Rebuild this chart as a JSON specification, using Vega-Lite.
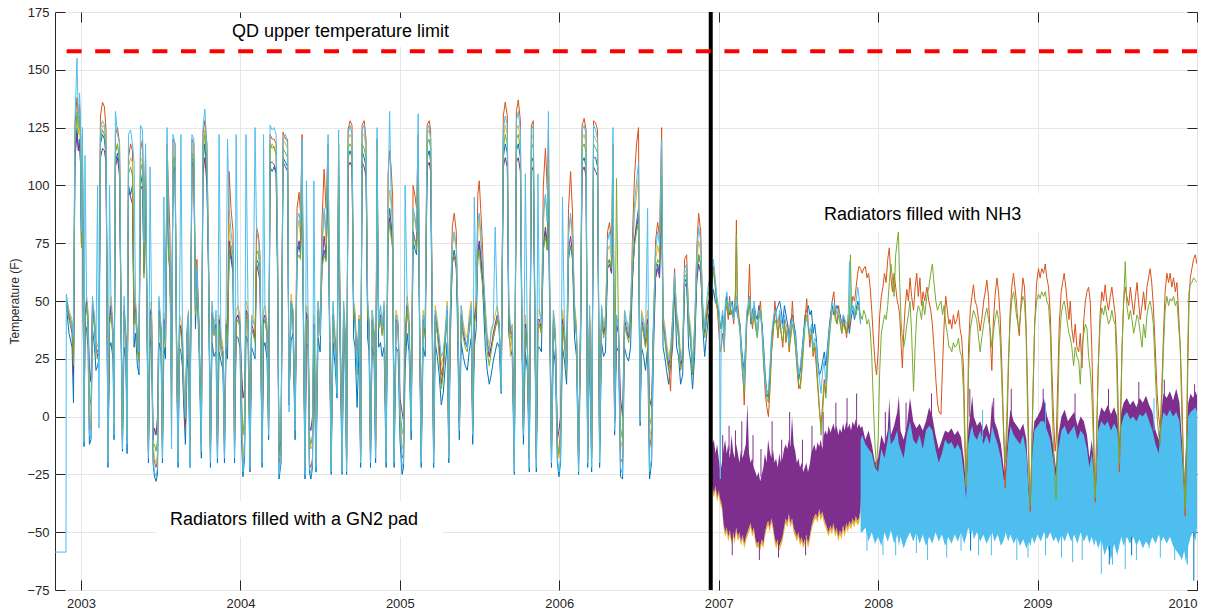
{
"$schema":"https://vega.github.io/schema/vega-lite/v6.json",
"width":1142,"height":578,
"autosize":{"type":"none"},
"padding":{"left":55,"top":12,"right":19,"bottom":21},
"background":"white",
"datasets":{
"start":[{"t":2002.837,"v":-58.6},{"t":2002.906,"v":-58.6},{"t":2002.908,"v":53}],
"p1":[
{"t":2002.908,"s1":48,"s2":50,"s3":52,"s4":50,"s5":50,"s6":53},
{"t":2002.925,"s1":36,"s2":44,"s3":46,"s4":43,"s5":42,"s6":45},
{"t":2002.944,"s1":30,"s2":40,"s3":42,"s4":36,"s5":38,"s6":40},
{"t":2002.953,"s1":6,"s2":28,"s3":30,"s4":18,"s5":22,"s6":34},
{"t":2002.962,"s1":115,"s2":126,"s3":120,"s4":112,"s5":118,"s6":128},
{"t":2002.975,"s1":125,"s2":138,"s3":130,"s4":122,"s5":132,"s6":155},
{"t":2002.984,"s1":115,"s2":130,"s3":122,"s4":115,"s5":125,"s6":125},
{"t":2002.991,"s1":120,"s2":135,"s3":128,"s4":118,"s5":130,"s6":140},
{"t":2002.997,"s1":110,"s2":125,"s3":120,"s4":110,"s5":115,"s6":128},
{"t":2003.003,"s1":75,"s2":85,"s3":78,"s4":75,"s5":73,"s6":80},
{"t":2003.009,"s1":112,"s2":122,"s3":118,"s4":110,"s5":116,"s6":125},
{"t":2003.019,"s1":-13,"s2":-10,"s3":-9,"s4":-8,"s5":-9,"s6":-11},
{"t":2003.025,"s1":40,"s2":42,"s3":45,"s4":42,"s5":41,"s6":113},
{"t":2003.035,"s1":38,"s2":48,"s3":52,"s4":50,"s5":48,"s6":52},
{"t":2003.044,"s1":30,"s2":42,"s3":46,"s4":42,"s5":40,"s6":44},
{"t":2003.053,"s1":-12,"s2":-6,"s3":0,"s4":21,"s5":10,"s6":-8},
{"t":2003.063,"s1":-10,"s2":-5,"s3":-2,"s4":15,"s5":5,"s6":-9},
{"t":2003.072,"s1":38,"s2":46,"s3":50,"s4":48,"s5":45,"s6":52},
{"t":2003.085,"s1":30,"s2":40,"s3":44,"s4":40,"s5":38,"s6":42},
{"t":2003.094,"s1":20,"s2":30,"s3":34,"s4":30,"s5":26,"s6":28},
{"t":2003.104,"s1":22,"s2":28,"s3":30,"s4":26,"s5":25,"s6":100},
{"t":2003.113,"s1":25,"s2":30,"s3":32,"s4":28,"s5":27,"s6":-5},
{"t":2003.122,"s1":118,"s2":130,"s3":122,"s4":112,"s5":120,"s6":125},
{"t":2003.135,"s1":122,"s2":136,"s3":126,"s4":116,"s5":124,"s6":128},
{"t":2003.147,"s1":120,"s2":134,"s3":125,"s4":115,"s5":122,"s6":126},
{"t":2003.157,"s1":112,"s2":124,"s3":118,"s4":110,"s5":116,"s6":120},
{"t":2003.163,"s1":55,"s2":60,"s3":60,"s4":55,"s5":58,"s6":60},
{"t":2003.169,"s1":-22,"s2":-18,"s3":-17,"s4":-15,"s5":-17,"s6":-20},
{"t":2003.179,"s1":30,"s2":40,"s3":45,"s4":42,"s5":40,"s6":100},
{"t":2003.188,"s1":32,"s2":45,"s3":52,"s4":48,"s5":44,"s6":50},
{"t":2003.201,"s1":25,"s2":36,"s3":40,"s4":36,"s5":34,"s6":36},
{"t":2003.207,"s1":-10,"s2":-5,"s3":-3,"s4":0,"s5":-2,"s6":-8},
{"t":2003.216,"s1":110,"s2":122,"s3":115,"s4":108,"s5":114,"s6":132},
{"t":2003.229,"s1":114,"s2":125,"s3":118,"s4":112,"s5":118,"s6":122},
{"t":2003.242,"s1":108,"s2":118,"s3":112,"s4":104,"s5":110,"s6":118},
{"t":2003.251,"s1":38,"s2":45,"s3":50,"s4":46,"s5":44,"s6":50},
{"t":2003.260,"s1":-15,"s2":-12,"s3":-10,"s4":-8,"s5":-10,"s6":-14},
{"t":2003.270,"s1":30,"s2":42,"s3":48,"s4":46,"s5":44,"s6":52},
{"t":2003.282,"s1":24,"s2":34,"s3":38,"s4":34,"s5":32,"s6":30},
{"t":2003.289,"s1":-16,"s2":-10,"s3":-8,"s4":-6,"s5":-8,"s6":-12},
{"t":2003.298,"s1":100,"s2":112,"s3":108,"s4":98,"s5":105,"s6":122},
{"t":2003.311,"s1":96,"s2":118,"s3":112,"s4":95,"s5":108,"s6":124},
{"t":2003.323,"s1":100,"s2":115,"s3":110,"s4":92,"s5":104,"s6":118},
{"t":2003.333,"s1":30,"s2":40,"s3":46,"s4":42,"s5":40,"s6":110},
{"t":2003.342,"s1":36,"s2":46,"s3":50,"s4":48,"s5":45,"s6":50},
{"t":2003.354,"s1":22,"s2":30,"s3":36,"s4":32,"s5":28,"s6":32},
{"t":2003.364,"s1":18,"s2":26,"s3":30,"s4":28,"s5":24,"s6":28},
{"t":2003.373,"s1":100,"s2":115,"s3":110,"s4":98,"s5":106,"s6":126},
{"t":2003.386,"s1":105,"s2":120,"s3":112,"s4":100,"s5":110,"s6":124},
{"t":2003.395,"s1":65,"s2":90,"s3":70,"s4":62,"s5":60,"s6":75},
{"t":2003.405,"s1":100,"s2":112,"s3":108,"s4":98,"s5":104,"s6":118},
{"t":2003.414,"s1":40,"s2":45,"s3":48,"s4":46,"s5":44,"s6":48},
{"t":2003.423,"s1":-20,"s2":-15,"s3":-14,"s4":-12,"s5":-14,"s6":-18},
{"t":2003.433,"s1":30,"s2":40,"s3":48,"s4":44,"s5":42,"s6":108},
{"t":2003.442,"s1":35,"s2":45,"s3":50,"s4":47,"s5":44,"s6":48},
{"t":2003.452,"s1":-20,"s2":-14,"s3":-12,"s4":-10,"s5":-13,"s6":-18},
{"t":2003.461,"s1":-26,"s2":-20,"s3":-18,"s4":-5,"s5":-12,"s6":-24},
{"t":2003.471,"s1":-28,"s2":-22,"s3":-20,"s4":-8,"s5":-15,"s6":-26},
{"t":2003.480,"s1":-25,"s2":-18,"s3":-16,"s4":0,"s5":-10,"s6":-22},
{"t":2003.489,"s1":32,"s2":42,"s3":50,"s4":46,"s5":44,"s6":52},
{"t":2003.502,"s1":28,"s2":36,"s3":40,"s4":38,"s5":36,"s6":38},
{"t":2003.511,"s1":-20,"s2":-14,"s3":-12,"s4":-10,"s5":-12,"s6":-18},
{"t":2003.520,"s1":30,"s2":40,"s3":45,"s4":42,"s5":40,"s6":95},
{"t":2003.530,"s1":25,"s2":33,"s3":36,"s4":30,"s5":30,"s6":32},
{"t":2003.540,"s1":110,"s2":118,"s3":115,"s4":108,"s5":112,"s6":125},
{"t":2003.549,"s1":72,"s2":97,"s3":78,"s4":70,"s5":68,"s6":82},
{"t":2003.558,"s1":65,"s2":80,"s3":66,"s4":62,"s5":70,"s6":72},
{"t":2003.568,"s1":20,"s2":-8,"s3":15,"s4":10,"s5":12,"s6":-14},
{"t":2003.577,"s1":110,"s2":120,"s3":115,"s4":105,"s5":112,"s6":122},
{"t":2003.590,"s1":112,"s2":118,"s3":114,"s4":108,"s5":112,"s6":118},
{"t":2003.599,"s1":28,"s2":36,"s3":40,"s4":36,"s5":34,"s6":30},
{"t":2003.609,"s1":-22,"s2":-16,"s3":-15,"s4":-12,"s5":-14,"s6":-20},
{"t":2003.618,"s1":30,"s2":40,"s3":44,"s4":40,"s5":38,"s6":45},
{"t":2003.627,"s1":28,"s2":38,"s3":42,"s4":38,"s5":36,"s6":122},
{"t":2003.636,"s1":22,"s2":30,"s3":34,"s4":30,"s5":28,"s6":40},
{"t":2003.646,"s1":2,"s2":10,"s3":12,"s4":6,"s5":8,"s6":14},
{"t":2003.655,"s1":-12,"s2":-5,"s3":0,"s4":-3,"s5":-1,"s6":0},
{"t":2003.665,"s1":20,"s2":32,"s3":38,"s4":35,"s5":32,"s6":36},
{"t":2003.674,"s1":30,"s2":42,"s3":46,"s4":44,"s5":42,"s6":45},
{"t":2003.683,"s1":-22,"s2":-16,"s3":-15,"s4":-12,"s5":-14,"s6":-22},
{"t":2003.696,"s1":112,"s2":120,"s3":116,"s4":110,"s5":114,"s6":122},
{"t":2003.708,"s1":110,"s2":118,"s3":115,"s4":108,"s5":112,"s6":120},
{"t":2003.718,"s1":38,"s2":45,"s3":50,"s4":46,"s5":44,"s6":48},
{"t":2003.727,"s1":60,"s2":68,"s3":58,"s4":62,"s5":56,"s6":65},
{"t":2003.740,"s1":30,"s2":40,"s3":42,"s4":38,"s5":36,"s6":38},
{"t":2003.755,"s1":-18,"s2":-12,"s3":-10,"s4":-8,"s5":-10,"s6":-15},
{"t":2003.765,"s1":110,"s2":122,"s3":118,"s4":105,"s5":116,"s6":125},
{"t":2003.777,"s1":118,"s2":128,"s3":124,"s4":112,"s5":122,"s6":133},
{"t":2003.790,"s1":105,"s2":118,"s3":112,"s4":100,"s5":110,"s6":116},
{"t":2003.800,"s1":62,"s2":70,"s3":72,"s4":65,"s5":62,"s6":68},
{"t":2003.812,"s1":-22,"s2":-16,"s3":-14,"s4":-12,"s5":-14,"s6":-20},
{"t":2003.822,"s1":32,"s2":42,"s3":48,"s4":45,"s5":42,"s6":50},
{"t":2003.834,"s1":26,"s2":36,"s3":40,"s4":37,"s5":35,"s6":36},
{"t":2003.847,"s1":28,"s2":40,"s3":44,"s4":40,"s5":38,"s6":46},
{"t":2003.856,"s1":-20,"s2":-15,"s3":-12,"s4":-10,"s5":-12,"s6":-18},
{"t":2003.866,"s1":28,"s2":40,"s3":44,"s4":42,"s5":40,"s6":122},
{"t":2003.878,"s1":24,"s2":32,"s3":36,"s4":32,"s5":28,"s6":32},
{"t":2003.891,"s1":20,"s2":28,"s3":30,"s4":26,"s5":24,"s6":28},
{"t":2003.900,"s1":-20,"s2":-14,"s3":-12,"s4":-10,"s5":-12,"s6":-18},
{"t":2003.910,"s1":30,"s2":38,"s3":42,"s4":40,"s5":38,"s6":44},
{"t":2003.919,"s1":25,"s2":35,"s3":38,"s4":35,"s5":33,"s6":120},
{"t":2003.929,"s1":72,"s2":106,"s3":84,"s4":76,"s5":72,"s6":90},
{"t":2003.941,"s1":68,"s2":90,"s3":72,"s4":70,"s5":74,"s6":80},
{"t":2003.954,"s1":62,"s2":80,"s3":66,"s4":64,"s5":70,"s6":72},
{"t":2003.963,"s1":-20,"s2":-14,"s3":-12,"s4":-10,"s5":-12,"s6":-18},
{"t":2003.973,"s1":35,"s2":42,"s3":46,"s4":42,"s5":40,"s6":122},
{"t":2003.985,"s1":34,"s2":44,"s3":48,"s4":44,"s5":42,"s6":46},
{"t":2003.997,"s1":30,"s2":40,"s3":44,"s4":40,"s5":38,"s6":42},
{"t":2004.007,"s1":-10,"s2":0,"s3":5,"s4":20,"s5":10,"s6":0},
{"t":2004.016,"s1":-26,"s2":-20,"s3":-18,"s4":8,"s5":-8,"s6":-24},
{"t":2004.026,"s1":-18,"s2":-12,"s3":-10,"s4":12,"s5":0,"s6":-15},
{"t":2004.035,"s1":35,"s2":45,"s3":50,"s4":46,"s5":44,"s6":122},
{"t":2004.048,"s1":32,"s2":42,"s3":46,"s4":44,"s5":40,"s6":45},
{"t":2004.060,"s1":-24,"s2":-18,"s3":-16,"s4":-14,"s5":-16,"s6":-22},
{"t":2004.070,"s1":30,"s2":38,"s3":44,"s4":40,"s5":38,"s6":42},
{"t":2004.079,"s1":28,"s2":36,"s3":42,"s4":38,"s5":36,"s6":40},
{"t":2004.092,"s1":25,"s2":34,"s3":38,"s4":34,"s5":32,"s6":125},
{"t":2004.101,"s1":68,"s2":82,"s3":70,"s4":66,"s5":72,"s6":80},
{"t":2004.114,"s1":66,"s2":78,"s3":72,"s4":62,"s5":70,"s6":76},
{"t":2004.123,"s1":60,"s2":70,"s3":62,"s4":58,"s5":64,"s6":66},
{"t":2004.136,"s1":-22,"s2":-16,"s3":-14,"s4":-12,"s5":-14,"s6":-20},
{"t":2004.145,"s1":30,"s2":40,"s3":46,"s4":42,"s5":40,"s6":122},
{"t":2004.154,"s1":32,"s2":42,"s3":48,"s4":44,"s5":42,"s6":46},
{"t":2004.167,"s1":25,"s2":36,"s3":40,"s4":37,"s5":35,"s6":38},
{"t":2004.177,"s1":-10,"s2":-5,"s3":-2,"s4":0,"s5":-2,"s6":-8},
{"t":2004.186,"s1":108,"s2":122,"s3":116,"s4":110,"s5":118,"s6":126},
{"t":2004.199,"s1":106,"s2":120,"s3":118,"s4":110,"s5":116,"s6":124},
{"t":2004.211,"s1":108,"s2":120,"s3":116,"s4":109,"s5":117,"s6":125},
{"t":2004.224,"s1":105,"s2":118,"s3":114,"s4":106,"s5":113,"s6":122},
{"t":2004.233,"s1":60,"s2":70,"s3":72,"s4":66,"s5":64,"s6":77},
{"t":2004.242,"s1":-27,"s2":-20,"s3":-18,"s4":-16,"s5":-18,"s6":-25},
{"t":2004.255,"s1":-20,"s2":-14,"s3":-12,"s4":-10,"s5":-12,"s6":-18},
{"t":2004.267,"s1":112,"s2":123,"s3":120,"s4":110,"s5":116,"s6":120},
{"t":2004.283,"s1":110,"s2":120,"s3":118,"s4":108,"s5":114,"s6":122},
{"t":2004.296,"s1":108,"s2":120,"s3":116,"s4":106,"s5":112,"s6":118},
{"t":2004.305,"s1":10,"s2":6,"s3":8,"s4":5,"s5":6,"s6":2},
{"t":2004.318,"s1":33,"s2":46,"s3":53,"s4":50,"s5":48,"s6":50},
{"t":2004.330,"s1":36,"s2":42,"s3":46,"s4":44,"s5":42,"s6":46},
{"t":2004.343,"s1":-10,"s2":-5,"s3":0,"s4":-3,"s5":-2,"s6":-6},
{"t":2004.355,"s1":70,"s2":90,"s3":80,"s4":72,"s5":68,"s6":85},
{"t":2004.368,"s1":74,"s2":97,"s3":85,"s4":76,"s5":70,"s6":88},
{"t":2004.377,"s1":70,"s2":88,"s3":78,"s4":72,"s5":68,"s6":82},
{"t":2004.387,"s1":105,"s2":122,"s3":112,"s4":100,"s5":108,"s6":120},
{"t":2004.396,"s1":30,"s2":40,"s3":44,"s4":40,"s5":38,"s6":40},
{"t":2004.405,"s1":-27,"s2":-22,"s3":-20,"s4":-18,"s5":-20,"s6":-25},
{"t":2004.414,"s1":32,"s2":42,"s3":48,"s4":45,"s5":42,"s6":102},
{"t":2004.424,"s1":30,"s2":40,"s3":46,"s4":42,"s5":40,"s6":45},
{"t":2004.433,"s1":-24,"s2":-20,"s3":-10,"s4":-4,"s5":-8,"s6":-22},
{"t":2004.442,"s1":-27,"s2":-22,"s3":-14,"s4":-6,"s5":-12,"s6":-25},
{"t":2004.452,"s1":-22,"s2":-18,"s3":-12,"s4":0,"s5":-8,"s6":-20},
{"t":2004.461,"s1":30,"s2":40,"s3":44,"s4":40,"s5":38,"s6":102},
{"t":2004.474,"s1":-24,"s2":-20,"s3":-18,"s4":-16,"s5":-18,"s6":-22},
{"t":2004.487,"s1":34,"s2":44,"s3":50,"s4":46,"s5":44,"s6":50},
{"t":2004.500,"s1":28,"s2":38,"s3":42,"s4":38,"s5":36,"s6":35},
{"t":2004.512,"s1":66,"s2":85,"s3":72,"s4":66,"s5":64,"s6":76},
{"t":2004.525,"s1":72,"s2":107,"s3":88,"s4":78,"s5":70,"s6":90},
{"t":2004.537,"s1":68,"s2":90,"s3":76,"s4":70,"s5":67,"s6":80},
{"t":2004.550,"s1":104,"s2":118,"s3":112,"s4":100,"s5":108,"s6":122},
{"t":2004.559,"s1":34,"s2":42,"s3":46,"s4":42,"s5":40,"s6":44},
{"t":2004.569,"s1":-25,"s2":-20,"s3":-18,"s4":-16,"s5":-18,"s6":-24},
{"t":2004.581,"s1":32,"s2":42,"s3":48,"s4":44,"s5":42,"s6":50},
{"t":2004.594,"s1":22,"s2":30,"s3":36,"s4":32,"s5":30,"s6":30},
{"t":2004.606,"s1":8,"s2":18,"s3":20,"s4":16,"s5":14,"s6":10},
{"t":2004.616,"s1":104,"s2":118,"s3":112,"s4":100,"s5":108,"s6":124},
{"t":2004.625,"s1":30,"s2":40,"s3":44,"s4":40,"s5":38,"s6":42},
{"t":2004.638,"s1":-25,"s2":-20,"s3":-18,"s4":-16,"s5":-18,"s6":-24},
{"t":2004.647,"s1":34,"s2":44,"s3":50,"s4":46,"s5":44,"s6":50},
{"t":2004.656,"s1":28,"s2":36,"s3":40,"s4":36,"s5":34,"s6":36},
{"t":2004.666,"s1":-25,"s2":-20,"s3":-18,"s4":-16,"s5":-18,"s6":-24},
{"t":2004.675,"s1":112,"s2":124,"s3":120,"s4":108,"s5":116,"s6":122},
{"t":2004.688,"s1":115,"s2":128,"s3":122,"s4":110,"s5":118,"s6":126},
{"t":2004.700,"s1":112,"s2":126,"s3":120,"s4":108,"s5":116,"s6":122},
{"t":2004.710,"s1":34,"s2":44,"s3":50,"s4":46,"s5":44,"s6":48},
{"t":2004.719,"s1":30,"s2":40,"s3":46,"s4":42,"s5":40,"s6":44},
{"t":2004.732,"s1":4,"s2":20,"s3":26,"s4":22,"s5":18,"s6":20},
{"t":2004.744,"s1":30,"s2":40,"s3":44,"s4":42,"s5":40,"s6":42},
{"t":2004.754,"s1":-22,"s2":-18,"s3":-16,"s4":-14,"s5":-16,"s6":-20},
{"t":2004.763,"s1":115,"s2":126,"s3":122,"s4":110,"s5":118,"s6":124},
{"t":2004.776,"s1":112,"s2":128,"s3":122,"s4":108,"s5":116,"s6":126},
{"t":2004.788,"s1":108,"s2":120,"s3":116,"s4":104,"s5":112,"s6":118},
{"t":2004.798,"s1":34,"s2":44,"s3":50,"s4":46,"s5":44,"s6":50},
{"t":2004.807,"s1":28,"s2":38,"s3":42,"s4":40,"s5":38,"s6":40},
{"t":2004.816,"s1":-22,"s2":-18,"s3":-16,"s4":-14,"s5":-16,"s6":-20},
{"t":2004.826,"s1":30,"s2":40,"s3":46,"s4":42,"s5":40,"s6":46},
{"t":2004.838,"s1":26,"s2":36,"s3":40,"s4":36,"s5":34,"s6":36},
{"t":2004.848,"s1":-20,"s2":-14,"s3":-12,"s4":-10,"s5":-12,"s6":-18},
{"t":2004.857,"s1":106,"s2":120,"s3":114,"s4":102,"s5":110,"s6":125},
{"t":2004.867,"s1":30,"s2":38,"s3":42,"s4":40,"s5":38,"s6":40},
{"t":2004.879,"s1":32,"s2":42,"s3":48,"s4":44,"s5":42,"s6":48},
{"t":2004.889,"s1":26,"s2":36,"s3":40,"s4":37,"s5":35,"s6":38},
{"t":2004.901,"s1":30,"s2":42,"s3":48,"s4":46,"s5":44,"s6":50},
{"t":2004.914,"s1":-22,"s2":-16,"s3":-14,"s4":-12,"s5":-14,"s6":-20},
{"t":2004.926,"s1":82,"s2":105,"s3":90,"s4":78,"s5":76,"s6":95},
{"t":2004.936,"s1":90,"s2":115,"s3":98,"s4":86,"s5":84,"s6":132},
{"t":2004.945,"s1":84,"s2":108,"s3":92,"s4":80,"s5":78,"s6":96},
{"t":2004.955,"s1":76,"s2":95,"s3":82,"s4":74,"s5":72,"s6":84},
{"t":2004.964,"s1":-22,"s2":-16,"s3":-14,"s4":-12,"s5":-14,"s6":-20},
{"t":2004.976,"s1":30,"s2":40,"s3":46,"s4":42,"s5":40,"s6":44},
{"t":2004.989,"s1":28,"s2":38,"s3":42,"s4":40,"s5":38,"s6":40},
{"t":2005.001,"s1":-10,"s2":0,"s3":4,"s4":8,"s5":2,"s6":0},
{"t":2005.014,"s1":-25,"s2":-18,"s3":-14,"s4":2,"s5":-6,"s6":-22},
{"t":2005.023,"s1":-22,"s2":-16,"s3":-12,"s4":-2,"s5":-8,"s6":-20},
{"t":2005.033,"s1":20,"s2":30,"s3":36,"s4":32,"s5":30,"s6":100},
{"t":2005.045,"s1":36,"s2":46,"s3":52,"s4":48,"s5":46,"s6":54},
{"t":2005.058,"s1":28,"s2":38,"s3":44,"s4":40,"s5":38,"s6":36},
{"t":2005.071,"s1":-10,"s2":-5,"s3":0,"s4":-2,"s5":-1,"s6":-6},
{"t":2005.083,"s1":76,"s2":100,"s3":88,"s4":80,"s5":78,"s6":90},
{"t":2005.096,"s1":72,"s2":95,"s3":84,"s4":76,"s5":76,"s6":86},
{"t":2005.105,"s1":70,"s2":90,"s3":80,"s4":74,"s5":72,"s6":80},
{"t":2005.115,"s1":108,"s2":122,"s3":118,"s4":104,"s5":112,"s6":131},
{"t":2005.124,"s1":30,"s2":40,"s3":44,"s4":40,"s5":38,"s6":42},
{"t":2005.134,"s1":-22,"s2":-16,"s3":-14,"s4":-12,"s5":-14,"s6":-20},
{"t":2005.146,"s1":30,"s2":40,"s3":46,"s4":42,"s5":40,"s6":44},
{"t":2005.159,"s1":26,"s2":36,"s3":40,"s4":36,"s5":34,"s6":38},
{"t":2005.171,"s1":112,"s2":126,"s3":122,"s4":108,"s5":118,"s6":124},
{"t":2005.184,"s1":115,"s2":128,"s3":124,"s4":110,"s5":120,"s6":126},
{"t":2005.193,"s1":110,"s2":124,"s3":120,"s4":106,"s5":116,"s6":120},
{"t":2005.203,"s1":34,"s2":44,"s3":50,"s4":46,"s5":44,"s6":50},
{"t":2005.212,"s1":-22,"s2":-16,"s3":-14,"s4":-12,"s5":-14,"s6":-20},
{"t":2005.222,"s1":32,"s2":42,"s3":48,"s4":44,"s5":42,"s6":46},
{"t":2005.235,"s1":26,"s2":36,"s3":42,"s4":38,"s5":36,"s6":40},
{"t":2005.247,"s1":18,"s2":30,"s3":34,"s4":30,"s5":26,"s6":34},
{"t":2005.260,"s1":5,"s2":18,"s3":22,"s4":14,"s5":12,"s6":26},
{"t":2005.272,"s1":10,"s2":22,"s3":26,"s4":20,"s5":18,"s6":28},
{"t":2005.285,"s1":22,"s2":34,"s3":38,"s4":34,"s5":32,"s6":36},
{"t":2005.297,"s1":32,"s2":44,"s3":50,"s4":46,"s5":44,"s6":48},
{"t":2005.307,"s1":-20,"s2":-15,"s3":-13,"s4":-11,"s5":-13,"s6":-18},
{"t":2005.316,"s1":30,"s2":40,"s3":46,"s4":42,"s5":40,"s6":44},
{"t":2005.329,"s1":68,"s2":82,"s3":74,"s4":66,"s5":68,"s6":76},
{"t":2005.341,"s1":72,"s2":88,"s3":78,"s4":70,"s5":70,"s6":80},
{"t":2005.354,"s1":66,"s2":80,"s3":72,"s4":64,"s5":66,"s6":74},
{"t":2005.363,"s1":34,"s2":42,"s3":50,"s4":46,"s5":44,"s6":50},
{"t":2005.373,"s1":-10,"s2":-5,"s3":0,"s4":-2,"s5":-1,"s6":-6},
{"t":2005.385,"s1":32,"s2":42,"s3":48,"s4":44,"s5":42,"s6":48},
{"t":2005.398,"s1":26,"s2":36,"s3":40,"s4":36,"s5":34,"s6":38},
{"t":2005.410,"s1":22,"s2":32,"s3":36,"s4":32,"s5":30,"s6":34},
{"t":2005.423,"s1":20,"s2":30,"s3":34,"s4":30,"s5":28,"s6":30},
{"t":2005.435,"s1":28,"s2":38,"s3":44,"s4":40,"s5":38,"s6":40},
{"t":2005.448,"s1":34,"s2":44,"s3":50,"s4":46,"s5":44,"s6":48},
{"t":2005.457,"s1":-12,"s2":-6,"s3":-2,"s4":-4,"s5":-3,"s6":-8},
{"t":2005.467,"s1":30,"s2":40,"s3":44,"s4":42,"s5":40,"s6":95},
{"t":2005.479,"s1":38,"s2":46,"s3":52,"s4":48,"s5":46,"s6":50},
{"t":2005.489,"s1":70,"s2":96,"s3":80,"s4":72,"s5":68,"s6":84},
{"t":2005.498,"s1":74,"s2":102,"s3":86,"s4":76,"s5":72,"s6":88},
{"t":2005.507,"s1":68,"s2":90,"s3":76,"s4":70,"s5":64,"s6":80},
{"t":2005.517,"s1":60,"s2":76,"s3":66,"s4":62,"s5":58,"s6":68},
{"t":2005.536,"s1":30,"s2":40,"s3":46,"s4":42,"s5":40,"s6":48},
{"t":2005.548,"s1":20,"s2":32,"s3":36,"s4":32,"s5":28,"s6":30},
{"t":2005.561,"s1":14,"s2":26,"s3":30,"s4":26,"s5":22,"s6":28},
{"t":2005.573,"s1":18,"s2":30,"s3":36,"s4":30,"s5":28,"s6":38},
{"t":2005.586,"s1":24,"s2":34,"s3":40,"s4":36,"s5":34,"s6":40},
{"t":2005.598,"s1":28,"s2":38,"s3":44,"s4":40,"s5":38,"s6":82},
{"t":2005.611,"s1":32,"s2":42,"s3":48,"s4":44,"s5":42,"s6":46},
{"t":2005.623,"s1":30,"s2":38,"s3":42,"s4":40,"s5":38,"s6":40},
{"t":2005.636,"s1":10,"s2":14,"s3":16,"s4":12,"s5":12,"s6":11},
{"t":2005.649,"s1":112,"s2":130,"s3":120,"s4":108,"s5":116,"s6":124},
{"t":2005.661,"s1":118,"s2":136,"s3":126,"s4":112,"s5":122,"s6":130},
{"t":2005.674,"s1":114,"s2":130,"s3":122,"s4":108,"s5":118,"s6":126},
{"t":2005.683,"s1":36,"s2":44,"s3":50,"s4":46,"s5":44,"s6":50},
{"t":2005.693,"s1":30,"s2":38,"s3":26,"s4":36,"s5":34,"s6":40},
{"t":2005.705,"s1":26,"s2":36,"s3":40,"s4":36,"s5":34,"s6":38},
{"t":2005.718,"s1":-25,"s2":-20,"s3":-18,"s4":-16,"s5":-18,"s6":-24},
{"t":2005.731,"s1":115,"s2":132,"s3":124,"s4":110,"s5":120,"s6":128},
{"t":2005.743,"s1":118,"s2":137,"s3":126,"s4":112,"s5":122,"s6":132},
{"t":2005.756,"s1":112,"s2":128,"s3":120,"s4":106,"s5":116,"s6":124},
{"t":2005.765,"s1":34,"s2":42,"s3":48,"s4":44,"s5":42,"s6":46},
{"t":2005.775,"s1":-12,"s2":-6,"s3":-2,"s4":-4,"s5":-3,"s6":-8},
{"t":2005.787,"s1":28,"s2":38,"s3":44,"s4":40,"s5":38,"s6":105},
{"t":2005.800,"s1":20,"s2":30,"s3":34,"s4":30,"s5":28,"s6":32},
{"t":2005.812,"s1":-24,"s2":-18,"s3":-16,"s4":-14,"s5":-16,"s6":-22},
{"t":2005.825,"s1":110,"s2":126,"s3":120,"s4":106,"s5":116,"s6":124},
{"t":2005.837,"s1":112,"s2":128,"s3":122,"s4":108,"s5":118,"s6":126},
{"t":2005.847,"s1":34,"s2":42,"s3":48,"s4":44,"s5":42,"s6":46},
{"t":2005.856,"s1":-24,"s2":-18,"s3":-16,"s4":-14,"s5":-16,"s6":-22},
{"t":2005.866,"s1":30,"s2":40,"s3":46,"s4":42,"s5":40,"s6":105},
{"t":2005.875,"s1":30,"s2":40,"s3":46,"s4":42,"s5":40,"s6":46},
{"t":2005.888,"s1":28,"s2":36,"s3":42,"s4":38,"s5":36,"s6":40},
{"t":2005.900,"s1":72,"s2":100,"s3":84,"s4":74,"s5":72,"s6":88},
{"t":2005.913,"s1":80,"s2":116,"s3":96,"s4":82,"s5":78,"s6":96},
{"t":2005.925,"s1":72,"s2":98,"s3":84,"s4":74,"s5":72,"s6":84},
{"t":2005.932,"s1":100,"s2":124,"s3":110,"s4":98,"s5":104,"s6":132},
{"t":2005.941,"s1":34,"s2":42,"s3":48,"s4":44,"s5":42,"s6":50},
{"t":2005.951,"s1":-22,"s2":-16,"s3":-14,"s4":-12,"s5":-14,"s6":-20},
{"t":2005.963,"s1":30,"s2":40,"s3":46,"s4":42,"s5":40,"s6":46},
{"t":2005.976,"s1":22,"s2":32,"s3":38,"s4":34,"s5":32,"s6":34},
{"t":2005.988,"s1":-20,"s2":-14,"s3":-12,"s4":-10,"s5":-12,"s6":-18},
{"t":2005.998,"s1":-26,"s2":-14,"s3":-18,"s4":-6,"s5":-16,"s6":-24},
{"t":2006.008,"s1":-20,"s2":-6,"s3":-12,"s4":0,"s5":-10,"s6":-18},
{"t":2006.020,"s1":30,"s2":40,"s3":46,"s4":42,"s5":40,"s6":95},
{"t":2006.033,"s1":24,"s2":34,"s3":38,"s4":34,"s5":30,"s6":36},
{"t":2006.046,"s1":14,"s2":22,"s3":26,"s4":20,"s5":18,"s6":20},
{"t":2006.058,"s1":68,"s2":90,"s3":78,"s4":72,"s5":70,"s6":80},
{"t":2006.071,"s1":74,"s2":106,"s3":86,"s4":78,"s5":74,"s6":88},
{"t":2006.083,"s1":68,"s2":88,"s3":76,"s4":70,"s5":70,"s6":78},
{"t":2006.096,"s1":34,"s2":42,"s3":48,"s4":44,"s5":42,"s6":48},
{"t":2006.108,"s1":26,"s2":36,"s3":40,"s4":36,"s5":34,"s6":36},
{"t":2006.121,"s1":-25,"s2":-20,"s3":-18,"s4":-16,"s5":-18,"s6":-24},
{"t":2006.134,"s1":30,"s2":40,"s3":44,"s4":42,"s5":40,"s6":44},
{"t":2006.143,"s1":110,"s2":126,"s3":120,"s4":106,"s5":116,"s6":124},
{"t":2006.156,"s1":112,"s2":129,"s3":122,"s4":108,"s5":118,"s6":126},
{"t":2006.168,"s1":108,"s2":124,"s3":118,"s4":104,"s5":114,"s6":122},
{"t":2006.178,"s1":-22,"s2":-18,"s3":-16,"s4":-14,"s5":-16,"s6":-20},
{"t":2006.190,"s1":32,"s2":42,"s3":48,"s4":44,"s5":42,"s6":48},
{"t":2006.203,"s1":-24,"s2":-18,"s3":-16,"s4":-14,"s5":-16,"s6":-22},
{"t":2006.215,"s1":112,"s2":128,"s3":122,"s4":108,"s5":118,"s6":126},
{"t":2006.228,"s1":112,"s2":127,"s3":120,"s4":106,"s5":116,"s6":124},
{"t":2006.240,"s1":108,"s2":124,"s3":118,"s4":104,"s5":114,"s6":120},
{"t":2006.253,"s1":-22,"s2":-16,"s3":-14,"s4":-12,"s5":-14,"s6":-20},
{"t":2006.265,"s1":32,"s2":42,"s3":48,"s4":44,"s5":42,"s6":48},
{"t":2006.278,"s1":26,"s2":36,"s3":40,"s4":36,"s5":34,"s6":38},
{"t":2006.290,"s1":28,"s2":40,"s3":44,"s4":40,"s5":38,"s6":42},
{"t":2006.303,"s1":66,"s2":80,"s3":72,"s4":64,"s5":66,"s6":76},
{"t":2006.315,"s1":68,"s2":84,"s3":74,"s4":66,"s5":68,"s6":80},
{"t":2006.328,"s1":62,"s2":76,"s3":68,"s4":62,"s5":64,"s6":70},
{"t":2006.337,"s1":100,"s2":118,"s3":110,"s4":96,"s5":104,"s6":125},
{"t":2006.347,"s1":-8,"s2":-3,"s3":0,"s4":-2,"s5":-1,"s6":-6},
{"t":2006.359,"s1":30,"s2":40,"s3":44,"s4":40,"s5":103,"s6":44},
{"t":2006.372,"s1":28,"s2":36,"s3":40,"s4":36,"s5":34,"s6":38},
{"t":2006.384,"s1":-26,"s2":-18,"s3":-10,"s4":8,"s5":-5,"s6":-22},
{"t":2006.397,"s1":-27,"s2":-20,"s3":-14,"s4":0,"s5":-10,"s6":-25},
{"t":2006.409,"s1":30,"s2":40,"s3":46,"s4":42,"s5":40,"s6":46},
{"t":2006.422,"s1":26,"s2":36,"s3":42,"s4":38,"s5":36,"s6":40},
{"t":2006.435,"s1":24,"s2":34,"s3":38,"s4":34,"s5":32,"s6":36},
{"t":2006.447,"s1":30,"s2":40,"s3":46,"s4":42,"s5":40,"s6":48},
{"t":2006.460,"s1":62,"s2":80,"s3":70,"s4":60,"s5":64,"s6":72},
{"t":2006.472,"s1":76,"s2":104,"s3":88,"s4":76,"s5":74,"s6":92},
{"t":2006.485,"s1":84,"s2":118,"s3":96,"s4":82,"s5":80,"s6":102},
{"t":2006.497,"s1":90,"s2":125,"s3":104,"s4":86,"s5":84,"s6":110},
{"t":2006.507,"s1":-4,"s2":0,"s3":2,"s4":0,"s5":0,"s6":-2},
{"t":2006.516,"s1":30,"s2":40,"s3":46,"s4":42,"s5":40,"s6":44},
{"t":2006.529,"s1":26,"s2":36,"s3":42,"s4":38,"s5":36,"s6":40},
{"t":2006.541,"s1":20,"s2":30,"s3":36,"s4":32,"s5":30,"s6":34},
{"t":2006.554,"s1":30,"s2":40,"s3":46,"s4":42,"s5":40,"s6":90},
{"t":2006.566,"s1":-27,"s2":-14,"s3":-10,"s4":8,"s5":-4,"s6":-24},
{"t":2006.579,"s1":-20,"s2":-8,"s3":-4,"s4":4,"s5":0,"s6":-18},
{"t":2006.591,"s1":28,"s2":38,"s3":44,"s4":40,"s5":38,"s6":42},
{"t":2006.604,"s1":60,"s2":76,"s3":68,"s4":60,"s5":64,"s6":72},
{"t":2006.617,"s1":66,"s2":84,"s3":74,"s4":64,"s5":68,"s6":80},
{"t":2006.629,"s1":62,"s2":78,"s3":70,"s4":60,"s5":66,"s6":74},
{"t":2006.642,"s1":100,"s2":125,"s3":110,"s4":96,"s5":104,"s6":120},
{"t":2006.651,"s1":30,"s2":40,"s3":44,"s4":40,"s5":38,"s6":42},
{"t":2006.661,"s1":26,"s2":36,"s3":40,"s4":36,"s5":34,"s6":38},
{"t":2006.673,"s1":20,"s2":28,"s3":32,"s4":28,"s5":26,"s6":30},
{"t":2006.686,"s1":14,"s2":22,"s3":26,"s4":22,"s5":20,"s6":24},
{"t":2006.698,"s1":22,"s2":11,"s3":30,"s4":26,"s5":24,"s6":28},
{"t":2006.711,"s1":30,"s2":40,"s3":44,"s4":40,"s5":38,"s6":42},
{"t":2006.723,"s1":56,"s2":64,"s3":60,"s4":54,"s5":58,"s6":62},
{"t":2006.736,"s1":30,"s2":42,"s3":46,"s4":42,"s5":40,"s6":44},
{"t":2006.748,"s1":26,"s2":36,"s3":40,"s4":36,"s5":34,"s6":38},
{"t":2006.761,"s1":14,"s2":22,"s3":26,"s4":22,"s5":20,"s6":24},
{"t":2006.774,"s1":18,"s2":26,"s3":30,"s4":26,"s5":24,"s6":28},
{"t":2006.786,"s1":58,"s2":68,"s3":62,"s4":56,"s5":60,"s6":64},
{"t":2006.799,"s1":60,"s2":70,"s3":64,"s4":58,"s5":62,"s6":66},
{"t":2006.811,"s1":30,"s2":42,"s3":46,"s4":42,"s5":40,"s6":44},
{"t":2006.824,"s1":24,"s2":34,"s3":38,"s4":34,"s5":32,"s6":36},
{"t":2006.836,"s1":12,"s2":20,"s3":24,"s4":20,"s5":18,"s6":22},
{"t":2006.849,"s1":26,"s2":36,"s3":40,"s4":36,"s5":34,"s6":38},
{"t":2006.862,"s1":60,"s2":72,"s3":66,"s4":58,"s5":62,"s6":70},
{"t":2006.874,"s1":70,"s2":88,"s3":76,"s4":66,"s5":70,"s6":82},
{"t":2006.887,"s1":66,"s2":80,"s3":72,"s4":62,"s5":66,"s6":76},
{"t":2006.899,"s1":40,"s2":46,"s3":50,"s4":46,"s5":44,"s6":48},
{"t":2006.912,"s1":26,"s2":36,"s3":40,"s4":36,"s5":34,"s6":38},
{"t":2006.925,"s1":36,"s2":44,"s3":48,"s4":44,"s5":42,"s6":50},
{"t":2006.937,"s1":44,"s2":50,"s3":54,"s4":50,"s5":48,"s6":58},
{"t":2006.956,"s1":48,"s2":52,"s3":55,"s4":50,"s5":50,"s6":60}
],
"p2":[
{"t":2006.958,"s1":50,"s2":60,"s5":58,"s6":62},
{"t":2006.967,"s1":55,"s2":65,"s5":63,"s6":68},
{"t":2006.978,"s1":50,"s2":58,"s5":56,"s6":60},
{"t":2006.988,"s1":48,"s2":50,"s5":48,"s6":52},
{"t":2006.998,"s1":46,"s2":40,"s5":44,"s6":48},
{"t":2007.005,"s1":42,"s2":32,"s5":40,"s6":44},
{"t":2007.010,"s1":40,"s2":28,"s5":38,"s6":-27},
{"t":2007.016,"s1":38,"s2":30,"s5":40,"s6":42},
{"t":2007.025,"s1":44,"s2":36,"s5":42,"s6":46},
{"t":2007.035,"s1":34,"s2":30,"s5":28,"s6":30},
{"t":2007.042,"s1":48,"s2":45,"s5":46,"s6":50},
{"t":2007.051,"s1":52,"s2":48,"s5":50,"s6":54},
{"t":2007.060,"s1":46,"s2":42,"s5":44,"s6":47},
{"t":2007.068,"s1":44,"s2":52,"s5":50,"s6":46},
{"t":2007.077,"s1":48,"s2":44,"s5":46,"s6":50},
{"t":2007.085,"s1":50,"s2":46,"s5":44,"s6":48},
{"t":2007.094,"s1":44,"s2":40,"s5":42,"s6":42},
{"t":2007.105,"s1":46,"s2":55,"s5":50,"s6":48},
{"t":2007.111,"s1":48,"s2":85,"s5":79,"s6":52},
{"t":2007.117,"s1":44,"s2":50,"s5":46,"s6":46},
{"t":2007.126,"s1":42,"s2":44,"s5":42,"s6":40},
{"t":2007.134,"s1":40,"s2":38,"s5":36,"s6":38},
{"t":2007.143,"s1":30,"s2":26,"s5":24,"s6":28},
{"t":2007.152,"s1":24,"s2":20,"s5":16,"s6":22},
{"t":2007.160,"s1":20,"s2":5,"s5":10,"s6":14},
{"t":2007.168,"s1":30,"s2":22,"s5":24,"s6":30},
{"t":2007.176,"s1":44,"s2":40,"s5":42,"s6":46},
{"t":2007.185,"s1":46,"s2":48,"s5":44,"s6":48},
{"t":2007.193,"s1":50,"s2":66,"s5":52,"s6":52},
{"t":2007.202,"s1":40,"s2":44,"s5":42,"s6":44},
{"t":2007.212,"s1":46,"s2":38,"s5":40,"s6":42},
{"t":2007.222,"s1":48,"s2":46,"s5":44,"s6":50},
{"t":2007.232,"s1":44,"s2":40,"s5":38,"s6":42},
{"t":2007.242,"s1":42,"s2":35,"s5":34,"s6":36},
{"t":2007.252,"s1":48,"s2":45,"s5":42,"s6":46},
{"t":2007.262,"s1":44,"s2":50,"s5":46,"s6":44},
{"t":2007.272,"s1":40,"s2":38,"s5":36,"s6":38},
{"t":2007.282,"s1":30,"s2":24,"s5":22,"s6":28},
{"t":2007.292,"s1":18,"s2":10,"s5":14,"s6":16},
{"t":2007.302,"s1":10,"s2":4,"s5":8,"s6":10},
{"t":2007.312,"s1":8,"s2":0,"s5":6,"s6":12},
{"t":2007.322,"s1":20,"s2":12,"s5":16,"s6":22},
{"t":2007.332,"s1":34,"s2":28,"s5":30,"s6":36},
{"t":2007.342,"s1":40,"s2":36,"s5":38,"s6":42},
{"t":2007.352,"s1":44,"s2":50,"s5":42,"s6":46},
{"t":2007.362,"s1":46,"s2":42,"s5":40,"s6":44},
{"t":2007.372,"s1":48,"s2":34,"s5":36,"s6":40},
{"t":2007.382,"s1":50,"s2":44,"s5":40,"s6":46},
{"t":2007.392,"s1":46,"s2":36,"s5":36,"s6":42},
{"t":2007.402,"s1":40,"s2":30,"s5":32,"s6":38},
{"t":2007.412,"s1":48,"s2":42,"s5":40,"s6":44},
{"t":2007.422,"s1":44,"s2":32,"s5":34,"s6":40},
{"t":2007.432,"s1":40,"s2":40,"s5":38,"s6":38},
{"t":2007.442,"s1":34,"s2":28,"s5":30,"s6":32},
{"t":2007.452,"s1":42,"s2":36,"s5":34,"s6":40},
{"t":2007.462,"s1":44,"s2":50,"s5":40,"s6":42},
{"t":2007.472,"s1":40,"s2":38,"s5":36,"s6":38},
{"t":2007.482,"s1":36,"s2":30,"s5":30,"s6":34},
{"t":2007.492,"s1":26,"s2":20,"s5":22,"s6":26},
{"t":2007.502,"s1":16,"s2":12,"s5":14,"s6":18},
{"t":2007.512,"s1":20,"s2":14,"s5":12,"s6":22},
{"t":2007.522,"s1":28,"s2":22,"s5":20,"s6":28},
{"t":2007.532,"s1":36,"s2":32,"s5":30,"s6":34},
{"t":2007.542,"s1":44,"s2":42,"s5":40,"s6":40},
{"t":2007.552,"s1":46,"s2":51,"s5":44,"s6":42},
{"t":2007.562,"s1":48,"s2":40,"s5":38,"s6":40},
{"t":2007.572,"s1":44,"s2":30,"s5":34,"s6":36},
{"t":2007.582,"s1":46,"s2":38,"s5":36,"s6":40},
{"t":2007.592,"s1":36,"s2":26,"s5":28,"s6":30},
{"t":2007.602,"s1":40,"s2":30,"s5":32,"s6":34},
{"t":2007.612,"s1":34,"s2":22,"s5":26,"s6":32},
{"t":2007.622,"s1":24,"s2":12,"s5":14,"s6":22},
{"t":2007.632,"s1":18,"s2":2,"s5":4,"s6":16},
{"t":2007.642,"s1":20,"s2":-4,"s5":-8,"s6":10},
{"t":2007.652,"s1":24,"s2":6,"s5":2,"s6":20},
{"t":2007.662,"s1":28,"s2":16,"s5":14,"s6":24},
{"t":2007.672,"s1":22,"s2":10,"s5":8,"s6":14},
{"t":2007.682,"s1":30,"s2":24,"s5":20,"s6":28},
{"t":2007.692,"s1":38,"s2":34,"s5":32,"s6":36},
{"t":2007.702,"s1":44,"s2":44,"s5":40,"s6":42},
{"t":2007.712,"s1":48,"s2":50,"s5":46,"s6":50},
{"t":2007.722,"s1":44,"s2":54,"s5":46,"s6":46},
{"t":2007.732,"s1":46,"s2":44,"s5":42,"s6":48},
{"t":2007.742,"s1":48,"s2":40,"s5":40,"s6":44},
{"t":2007.752,"s1":46,"s2":48,"s5":44,"s6":46},
{"t":2007.762,"s1":44,"s2":42,"s5":40,"s6":42},
{"t":2007.772,"s1":40,"s2":36,"s5":36,"s6":40},
{"t":2007.782,"s1":42,"s2":44,"s5":40,"s6":44},
{"t":2007.792,"s1":38,"s2":40,"s5":38,"s6":42},
{"t":2007.802,"s1":36,"s2":34,"s5":36,"s6":40},
{"t":2007.812,"s1":40,"s2":42,"s5":44,"s6":42},
{"t":2007.820,"s1":36,"s2":38,"s5":40,"s6":67},
{"t":2007.826,"s1":40,"s2":46,"s5":70,"s6":44},
{"t":2007.834,"s1":44,"s2":48,"s5":46,"s6":46},
{"t":2007.842,"s1":46,"s2":52,"s5":48,"s6":48},
{"t":2007.852,"s1":42,"s2":50,"s5":46,"s6":44},
{"t":2007.862,"s1":46,"s2":56,"s5":44,"s6":50},
{"t":2007.872,"s1":50,"s2":62,"s5":48,"s6":56},
{"t":2007.880,"s1":48,"s2":65,"s5":46,"s6":52},
{"t":2007.890,"s1":40,"s2":64,"s5":44,"s6":40},
{"t":2007.900,"s2":62,"s5":42},
{"t":2007.910,"s2":64,"s5":46},
{"t":2007.920,"s2":65,"s5":44},
{"t":2007.930,"s2":60,"s5":40},
{"t":2007.940,"s2":62,"s5":42},
{"t":2007.950,"s2":56,"s5":38},
{"t":2007.960,"s2":46,"s5":26},
{"t":2007.970,"s2":34,"s5":6},
{"t":2007.980,"s2":24,"s5":-12},
{"t":2007.990,"s2":18,"s5":-22},
{"t":2008.000,"s2":28,"s5":-10},
{"t":2008.010,"s2":44,"s5":20},
{"t":2008.020,"s2":52,"s5":36},
{"t":2008.030,"s2":56,"s5":40},
{"t":2008.040,"s2":62,"s5":44},
{"t":2008.050,"s2":58,"s5":42},
{"t":2008.060,"s2":68,"s5":48},
{"t":2008.070,"s2":73,"s5":58},
{"t":2008.080,"s2":60,"s5":66},
{"t":2008.090,"s2":54,"s5":60},
{"t":2008.100,"s2":62,"s5":52},
{"t":2008.110,"s2":56,"s5":70},
{"t":2008.120,"s2":50,"s5":76},
{"t":2008.127,"s2":48,"s5":80},
{"t":2008.135,"s2":44,"s5":58},
{"t":2008.145,"s2":30,"s5":40},
{"t":2008.152,"s2":21,"s5":34},
{"t":2008.160,"s2":36,"s5":30},
{"t":2008.170,"s2":48,"s5":34},
{"t":2008.180,"s2":55,"s5":40},
{"t":2008.190,"s2":50,"s5":44},
{"t":2008.200,"s2":60,"s5":50},
{"t":2008.210,"s2":52,"s5":36},
{"t":2008.222,"s2":46,"s5":11},
{"t":2008.232,"s2":56,"s5":30},
{"t":2008.242,"s2":62,"s5":44},
{"t":2008.252,"s2":52,"s5":48},
{"t":2008.262,"s2":60,"s5":46},
{"t":2008.272,"s2":48,"s5":42},
{"t":2008.282,"s2":54,"s5":50},
{"t":2008.292,"s2":50,"s5":44},
{"t":2008.306,"s2":56,"s5":52},
{"t":2008.318,"s2":50,"s5":56},
{"t":2008.330,"s2":46,"s5":62},
{"t":2008.340,"s2":40,"s5":66},
{"t":2008.350,"s2":30,"s5":58},
{"t":2008.362,"s2":16,"s5":50},
{"t":2008.372,"s2":6,"s5":46},
{"t":2008.382,"s2":2,"s5":48},
{"t":2008.394,"s2":1,"s5":50},
{"t":2008.404,"s2":22,"s5":44},
{"t":2008.414,"s2":40,"s5":48},
{"t":2008.424,"s2":52,"s5":40},
{"t":2008.434,"s2":46,"s5":36},
{"t":2008.444,"s2":40,"s5":30},
{"t":2008.452,"s2":42,"s5":30},
{"t":2008.462,"s2":38,"s5":28},
{"t":2008.472,"s2":44,"s5":32},
{"t":2008.482,"s2":40,"s5":30},
{"t":2008.494,"s2":42,"s5":31},
{"t":2008.504,"s2":46,"s5":34},
{"t":2008.514,"s2":38,"s5":28},
{"t":2008.524,"s2":34,"s5":26},
{"t":2008.536,"s2":20,"s5":10},
{"t":2008.545,"s2":-10,"s5":-16},
{"t":2008.552,"s2":-30,"s5":-30},
{"t":2008.560,"s2":-8,"s5":-12},
{"t":2008.567,"s2":30,"s5":20},
{"t":2008.578,"s2":46,"s5":38},
{"t":2008.588,"s2":52,"s5":42},
{"t":2008.598,"s2":57,"s5":46},
{"t":2008.608,"s2":50,"s5":44},
{"t":2008.618,"s2":48,"s5":42},
{"t":2008.630,"s2":42,"s5":34},
{"t":2008.640,"s2":37,"s5":28},
{"t":2008.650,"s2":42,"s5":34},
{"t":2008.662,"s2":50,"s5":40},
{"t":2008.672,"s2":54,"s5":44},
{"t":2008.682,"s2":59,"s5":47},
{"t":2008.692,"s2":52,"s5":42},
{"t":2008.702,"s2":36,"s5":38},
{"t":2008.713,"s2":20,"s5":30},
{"t":2008.722,"s2":40,"s5":36},
{"t":2008.733,"s2":52,"s5":42},
{"t":2008.745,"s2":60,"s5":46},
{"t":2008.755,"s2":54,"s5":42},
{"t":2008.765,"s2":44,"s5":34},
{"t":2008.775,"s2":24,"s5":16},
{"t":2008.785,"s2":0,"s5":-4},
{"t":2008.797,"s2":-31,"s5":-20},
{"t":2008.807,"s2":-10,"s5":0},
{"t":2008.817,"s2":20,"s5":24},
{"t":2008.827,"s2":44,"s5":40},
{"t":2008.838,"s2":56,"s5":50},
{"t":2008.849,"s2":62,"s5":54},
{"t":2008.858,"s2":56,"s5":50},
{"t":2008.867,"s2":50,"s5":44},
{"t":2008.877,"s2":40,"s5":40},
{"t":2008.885,"s2":35,"s5":38},
{"t":2008.895,"s2":48,"s5":46},
{"t":2008.908,"s2":60,"s5":52},
{"t":2008.918,"s2":56,"s5":50},
{"t":2008.928,"s2":40,"s5":36},
{"t":2008.938,"s2":10,"s5":0},
{"t":2008.946,"s2":-20,"s5":-25},
{"t":2008.954,"s2":-41,"s5":-38},
{"t":2008.962,"s2":-20,"s5":-20},
{"t":2008.972,"s2":10,"s5":14},
{"t":2008.982,"s2":40,"s5":40},
{"t":2008.994,"s2":58,"s5":50},
{"t":2009.006,"s2":64,"s5":53},
{"t":2009.016,"s2":60,"s5":51},
{"t":2009.026,"s2":64,"s5":54},
{"t":2009.038,"s2":62,"s5":52},
{"t":2009.048,"s2":66,"s5":54},
{"t":2009.058,"s2":60,"s5":50},
{"t":2009.069,"s2":56,"s5":48},
{"t":2009.080,"s2":44,"s5":36},
{"t":2009.090,"s2":20,"s5":10},
{"t":2009.100,"s2":0,"s5":-14},
{"t":2009.110,"s2":-15,"s5":-30},
{"t":2009.117,"s2":-10,"s5":-36},
{"t":2009.126,"s2":14,"s5":0},
{"t":2009.136,"s2":40,"s5":30},
{"t":2009.148,"s2":54,"s5":44},
{"t":2009.157,"s2":58,"s5":48},
{"t":2009.167,"s2":62,"s5":50},
{"t":2009.177,"s2":56,"s5":46},
{"t":2009.188,"s2":48,"s5":40},
{"t":2009.197,"s2":42,"s5":36},
{"t":2009.205,"s2":50,"s5":34},
{"t":2009.215,"s2":38,"s5":30},
{"t":2009.226,"s2":32,"s5":22},
{"t":2009.236,"s2":40,"s5":30},
{"t":2009.247,"s2":30,"s5":26},
{"t":2009.258,"s2":28,"s5":24},
{"t":2009.268,"s2":36,"s5":14},
{"t":2009.278,"s2":21,"s5":30},
{"t":2009.290,"s2":42,"s5":36},
{"t":2009.300,"s2":50,"s5":40},
{"t":2009.310,"s2":54,"s5":38},
{"t":2009.320,"s2":56,"s5":26},
{"t":2009.330,"s2":50,"s5":20},
{"t":2009.340,"s2":30,"s5":10},
{"t":2009.350,"s2":0,"s5":-10},
{"t":2009.356,"s2":-20,"s5":-30},
{"t":2009.362,"s2":-37,"s5":-35},
{"t":2009.370,"s2":-10,"s5":-10},
{"t":2009.380,"s2":20,"s5":20},
{"t":2009.392,"s2":44,"s5":40},
{"t":2009.403,"s2":54,"s5":47},
{"t":2009.414,"s2":50,"s5":44},
{"t":2009.424,"s2":57,"s5":48},
{"t":2009.434,"s2":50,"s5":44},
{"t":2009.445,"s2":46,"s5":40},
{"t":2009.456,"s2":52,"s5":42},
{"t":2009.466,"s2":56,"s5":46},
{"t":2009.476,"s2":50,"s5":42},
{"t":2009.487,"s2":44,"s5":40},
{"t":2009.497,"s2":30,"s5":20},
{"t":2009.507,"s2":0,"s5":-10},
{"t":2009.513,"s2":-24,"s5":-20},
{"t":2009.520,"s2":-5,"s5":0},
{"t":2009.530,"s2":30,"s5":30},
{"t":2009.540,"s2":50,"s5":50},
{"t":2009.550,"s2":56,"s5":67},
{"t":2009.560,"s2":52,"s5":48},
{"t":2009.572,"s2":48,"s5":42},
{"t":2009.582,"s2":56,"s5":46},
{"t":2009.592,"s2":50,"s5":42},
{"t":2009.603,"s2":44,"s5":36},
{"t":2009.614,"s2":52,"s5":40},
{"t":2009.624,"s2":58,"s5":44},
{"t":2009.633,"s2":50,"s5":42},
{"t":2009.644,"s2":42,"s5":36},
{"t":2009.655,"s2":48,"s5":30},
{"t":2009.665,"s2":54,"s5":40},
{"t":2009.676,"s2":46,"s5":34},
{"t":2009.686,"s2":56,"s5":44},
{"t":2009.696,"s2":60,"s5":48},
{"t":2009.706,"s2":64,"s5":50},
{"t":2009.716,"s2":58,"s5":46},
{"t":2009.726,"s2":48,"s5":40},
{"t":2009.738,"s2":30,"s5":20},
{"t":2009.750,"s2":10,"s5":0},
{"t":2009.760,"s2":0,"s5":-8},
{"t":2009.769,"s2":-5,"s5":-12},
{"t":2009.778,"s2":10,"s5":4},
{"t":2009.790,"s2":36,"s5":30},
{"t":2009.800,"s2":54,"s5":46},
{"t":2009.811,"s2":62,"s5":52},
{"t":2009.822,"s2":58,"s5":48},
{"t":2009.832,"s2":62,"s5":51},
{"t":2009.842,"s2":56,"s5":50},
{"t":2009.853,"s2":60,"s5":52},
{"t":2009.864,"s2":54,"s5":48},
{"t":2009.874,"s2":58,"s5":50},
{"t":2009.884,"s2":46,"s5":40},
{"t":2009.895,"s2":30,"s5":30},
{"t":2009.905,"s2":10,"s5":0},
{"t":2009.915,"s2":-20,"s5":-20},
{"t":2009.926,"s2":-43,"s5":-40},
{"t":2009.934,"s2":-20,"s5":-10},
{"t":2009.942,"s2":20,"s5":30},
{"t":2009.950,"s2":50,"s5":54},
{"t":2009.958,"s2":60,"s5":57},
{"t":2009.968,"s2":64,"s5":58},
{"t":2009.978,"s2":68,"s5":60},
{"t":2009.989,"s2":70,"s5":59},
{"t":2010.000,"s2":66,"s5":58}
],
"band":[
{"t":2006.958,"pu":-12,"pl":-30,"yl":-32},
{"t":2006.970,"pu":-10,"pl":-33,"yl":-35},
{"t":2006.980,"pu":-16,"pl":-30,"yl":-32},
{"t":2006.990,"pu":-12,"pl":-35,"yl":-37},
{"t":2007.000,"pu":-18,"pl":-32,"yl":-34},
{"t":2007.010,"pu":-24,"pl":-36,"yl":-38},
{"t":2007.020,"pu":-20,"pl":-38,"yl":-40},
{"t":2007.030,"pu":-14,"pl":-46,"yl":-48},
{"t":2007.040,"pu":-10,"pl":-50,"yl":-52},
{"t":2007.050,"pu":-16,"pl":-48,"yl":-50},
{"t":2007.060,"pu":-12,"pl":-52,"yl":-54},
{"t":2007.070,"pu":-18,"pl":-49,"yl":-51},
{"t":2007.080,"pu":-8,"pl":-54,"yl":-55},
{"t":2007.090,"pu":-15,"pl":-50,"yl":-52},
{"t":2007.100,"pu":-18,"pl":-53,"yl":-55},
{"t":2007.110,"pu":-12,"pl":-48,"yl":-50},
{"t":2007.120,"pu":-16,"pl":-52,"yl":-54},
{"t":2007.130,"pu":-20,"pl":-50,"yl":-52},
{"t":2007.140,"pu":-14,"pl":-54,"yl":-56},
{"t":2007.150,"pu":-18,"pl":-51,"yl":-53},
{"t":2007.160,"pu":-15,"pl":-55,"yl":-57},
{"t":2007.170,"pu":-12,"pl":-52,"yl":-54},
{"t":2007.180,"pu":6,"pl":-50,"yl":-52},
{"t":2007.190,"pu":-16,"pl":-48,"yl":-50},
{"t":2007.200,"pu":-20,"pl":-46,"yl":-48},
{"t":2007.210,"pu":-18,"pl":-50,"yl":-52},
{"t":2007.220,"pu":-22,"pl":-48,"yl":-50},
{"t":2007.230,"pu":-24,"pl":-53,"yl":-55},
{"t":2007.240,"pu":-26,"pl":-55,"yl":-57},
{"t":2007.250,"pu":-24,"pl":-54,"yl":-56},
{"t":2007.260,"pu":-28,"pl":-56,"yl":-58},
{"t":2007.270,"pu":-25,"pl":-53,"yl":-55},
{"t":2007.280,"pu":-22,"pl":-55,"yl":-57},
{"t":2007.290,"pu":-16,"pl":-50,"yl":-52},
{"t":2007.300,"pu":-20,"pl":-47,"yl":-49},
{"t":2007.310,"pu":-10,"pl":-45,"yl":-47},
{"t":2007.320,"pu":-15,"pl":-48,"yl":-50},
{"t":2007.330,"pu":-18,"pl":-44,"yl":-46},
{"t":2007.340,"pu":-14,"pl":-47,"yl":-49},
{"t":2007.350,"pu":-20,"pl":-52,"yl":-54},
{"t":2007.360,"pu":-18,"pl":-55,"yl":-57},
{"t":2007.370,"pu":-22,"pl":-53,"yl":-55},
{"t":2007.380,"pu":-16,"pl":-56,"yl":-58},
{"t":2007.390,"pu":-20,"pl":-54,"yl":-56},
{"t":2007.400,"pu":-18,"pl":-52,"yl":-54},
{"t":2007.410,"pu":-14,"pl":-48,"yl":-50},
{"t":2007.420,"pu":-12,"pl":-44,"yl":-46},
{"t":2007.430,"pu":-14,"pl":-46,"yl":-48},
{"t":2007.440,"pu":-10,"pl":-42,"yl":-44},
{"t":2007.450,"pu":-13,"pl":-46,"yl":-48},
{"t":2007.460,"pu":0,"pl":-44,"yl":-46},
{"t":2007.470,"pu":-12,"pl":-48,"yl":-50},
{"t":2007.480,"pu":-15,"pl":-50,"yl":-52},
{"t":2007.490,"pu":-20,"pl":-52,"yl":-54},
{"t":2007.500,"pu":-18,"pl":-50,"yl":-52},
{"t":2007.510,"pu":-22,"pl":-54,"yl":-56},
{"t":2007.520,"pu":-20,"pl":-52,"yl":-54},
{"t":2007.530,"pu":-24,"pl":-55,"yl":-57},
{"t":2007.540,"pu":-22,"pl":-53,"yl":-55},
{"t":2007.550,"pu":-20,"pl":-51,"yl":-53},
{"t":2007.560,"pu":-24,"pl":-55,"yl":-57},
{"t":2007.570,"pu":-21,"pl":-52,"yl":-54},
{"t":2007.580,"pu":-16,"pl":-48,"yl":-50},
{"t":2007.590,"pu":-14,"pl":-45,"yl":-47},
{"t":2007.600,"pu":-12,"pl":-43,"yl":-45},
{"t":2007.610,"pu":-15,"pl":-42,"yl":-44},
{"t":2007.620,"pu":-11,"pl":-44,"yl":-46},
{"t":2007.630,"pu":-13,"pl":-40,"yl":-42},
{"t":2007.640,"pu":-10,"pl":-43,"yl":-45},
{"t":2007.650,"pu":-14,"pl":-41,"yl":-43},
{"t":2007.660,"pu":-8,"pl":-44,"yl":-46},
{"t":2007.670,"pu":-6,"pl":-46,"yl":-48},
{"t":2007.680,"pu":-8,"pl":-48,"yl":-50},
{"t":2007.690,"pu":-4,"pl":-50,"yl":-52},
{"t":2007.700,"pu":-7,"pl":-47,"yl":-49},
{"t":2007.710,"pu":-5,"pl":-49,"yl":-51},
{"t":2007.720,"pu":-3,"pl":-46,"yl":-48},
{"t":2007.730,"pu":-6,"pl":-50,"yl":-52},
{"t":2007.740,"pu":-4,"pl":-48,"yl":-50},
{"t":2007.750,"pu":-8,"pl":-52,"yl":-54},
{"t":2007.760,"pu":-5,"pl":-49,"yl":-51},
{"t":2007.770,"pu":-7,"pl":-51,"yl":-53},
{"t":2007.780,"pu":-3,"pl":-47,"yl":-49},
{"t":2007.790,"pu":-6,"pl":-50,"yl":-52},
{"t":2007.800,"pu":-2,"pl":-46,"yl":-48},
{"t":2007.810,"pu":-5,"pl":-48,"yl":-50},
{"t":2007.820,"pu":-3,"pl":-45,"yl":-47},
{"t":2007.830,"pu":-6,"pl":-47,"yl":-49},
{"t":2007.840,"pu":-2,"pl":-44,"yl":-46},
{"t":2007.850,"pu":-4,"pl":-46,"yl":-48},
{"t":2007.860,"pu":-1,"pl":-43,"yl":-45},
{"t":2007.870,"pu":-5,"pl":-45,"yl":-47},
{"t":2007.880,"pu":-3,"pl":-44,"yl":-46},
{"t":2007.890,"pu":-5,"pl":-40,"yl":-42,"cu":-10,"cl":-50},
{"t":2007.900,"pu":-4,"pl":-20,"cu":-8,"cl":-50},
{"t":2007.920,"pu":-10,"pl":-22,"cu":-12,"cl":-48},
{"t":2007.940,"pu":-6,"pl":-24,"cu":-14,"cl":-54},
{"t":2007.960,"pu":-12,"pl":-26,"cu":-16,"cl":-50},
{"t":2007.980,"pu":-20,"pl":-30,"cu":-22,"cl":-55},
{"t":2008.000,"pu":-18,"pl":-28,"cu":-24,"cl":-52},
{"t":2008.020,"pu":-8,"pl":-22,"cu":-14,"cl":-56},
{"t":2008.040,"pu":-12,"pl":-24,"cu":-18,"cl":-50},
{"t":2008.060,"pu":-6,"pl":-20,"cu":-10,"cl":-54},
{"t":2008.070,"pu":8,"pl":-18,"cu":-4,"cl":-52},
{"t":2008.080,"pu":-8,"pl":-22,"cu":-12,"cl":-49},
{"t":2008.100,"pu":-4,"pl":-20,"cu":-10,"cl":-55},
{"t":2008.120,"pu":2,"pl":-18,"cu":-6,"cl":-51},
{"t":2008.130,"pu":9,"pl":-20,"cu":-12,"cl":-56},
{"t":2008.140,"pu":-6,"pl":-22,"cu":-14,"cl":-52},
{"t":2008.160,"pu":-10,"pl":-26,"cu":-18,"cl":-57},
{"t":2008.180,"pu":-4,"pl":-20,"cu":-8,"cl":-53},
{"t":2008.200,"pu":8,"pl":-18,"cu":-2,"cl":-50},
{"t":2008.220,"pu":-2,"pl":-20,"cu":-10,"cl":-54},
{"t":2008.240,"pu":-5,"pl":-22,"cu":-12,"cl":-50},
{"t":2008.260,"pu":-3,"pl":-20,"cu":-8,"cl":-55},
{"t":2008.280,"pu":-6,"pl":-22,"cu":-14,"cl":-51},
{"t":2008.300,"pu":-2,"pl":-18,"cu":-6,"cl":-56},
{"t":2008.320,"pu":4,"pl":-18,"cu":-4,"cl":-52},
{"t":2008.340,"pu":0,"pl":-20,"cu":-6,"cl":-55},
{"t":2008.360,"pu":-8,"pl":-24,"cu":-14,"cl":-50},
{"t":2008.380,"pu":-14,"pl":-28,"cu":-20,"cl":-54},
{"t":2008.400,"pu":-10,"pl":-26,"cu":-16,"cl":-51},
{"t":2008.420,"pu":-6,"pl":-22,"cu":-10,"cl":-56},
{"t":2008.440,"pu":-7,"pl":-22,"cu":-12,"cl":-52},
{"t":2008.460,"pu":-5,"pl":-20,"cu":-11,"cl":-55},
{"t":2008.480,"pu":-8,"pl":-24,"cu":-14,"cl":-51},
{"t":2008.500,"pu":-6,"pl":-22,"cu":-12,"cl":-54},
{"t":2008.520,"pu":-9,"pl":-24,"cu":-15,"cl":-50},
{"t":2008.540,"pu":-20,"pl":-34,"cu":-26,"cl":-55},
{"t":2008.552,"pu":-32,"pl":-40,"cu":-36,"cl":-52},
{"t":2008.565,"pu":-6,"pl":-22,"cu":-12,"cl":-48},
{"t":2008.580,"pu":2,"pl":-18,"cu":-6,"cl":-52},
{"t":2008.590,"pu":9,"pl":-18,"cu":-4,"cl":-49},
{"t":2008.600,"pu":0,"pl":-20,"cu":-8,"cl":-53},
{"t":2008.620,"pu":-4,"pl":-20,"cu":-10,"cl":-50},
{"t":2008.640,"pu":-2,"pl":-18,"cu":-6,"cl":-54},
{"t":2008.660,"pu":-6,"pl":-22,"cu":-12,"cl":-51},
{"t":2008.680,"pu":-3,"pl":-20,"cu":-8,"cl":-55},
{"t":2008.700,"pu":-8,"pl":-22,"cu":-12,"cl":-52},
{"t":2008.715,"pu":7,"pl":-18,"cu":-4,"cl":-50},
{"t":2008.730,"pu":-2,"pl":-20,"cu":-8,"cl":-54},
{"t":2008.750,"pu":-6,"pl":-22,"cu":-12,"cl":-51},
{"t":2008.770,"pu":-12,"pl":-26,"cu":-18,"cl":-56},
{"t":2008.790,"pu":-24,"pl":-34,"cu":-28,"cl":-53},
{"t":2008.800,"pu":-22,"pl":-32,"cu":-26,"cl":-50},
{"t":2008.815,"pu":-6,"pl":-22,"cu":-12,"cl":-54},
{"t":2008.830,"pu":3,"pl":-18,"cu":-4,"cl":-51},
{"t":2008.850,"pu":-2,"pl":-20,"cu":-8,"cl":-55},
{"t":2008.870,"pu":-4,"pl":-20,"cu":-10,"cl":-52},
{"t":2008.890,"pu":-6,"pl":-22,"cu":-12,"cl":-56},
{"t":2008.910,"pu":-3,"pl":-20,"cu":-8,"cl":-53},
{"t":2008.930,"pu":-10,"pl":-24,"cu":-16,"cl":-57},
{"t":2008.945,"pu":-30,"pl":-38,"cu":-34,"cl":-54},
{"t":2008.955,"pu":-37,"pl":-42,"cu":-40,"cl":-56},
{"t":2008.965,"pu":-12,"pl":-26,"cu":-18,"cl":-52},
{"t":2008.980,"pu":-2,"pl":-18,"cu":-6,"cl":-55},
{"t":2009.000,"pu":0,"pl":-18,"cu":-4,"cl":-51},
{"t":2009.020,"pu":3,"pl":-18,"cu":-2,"cl":-54},
{"t":2009.040,"pu":8,"pl":-16,"cu":-2,"cl":-50},
{"t":2009.060,"pu":0,"pl":-18,"cu":-6,"cl":-53},
{"t":2009.080,"pu":-4,"pl":-20,"cu":-10,"cl":-50},
{"t":2009.100,"pu":-14,"pl":-28,"cu":-20,"cl":-54},
{"t":2009.115,"pu":-22,"pl":-32,"cu":-26,"cl":-52},
{"t":2009.130,"pu":-8,"pl":-22,"cu":-14,"cl":-55},
{"t":2009.150,"pu":0,"pl":-18,"cu":-6,"cl":-51},
{"t":2009.170,"pu":3,"pl":-18,"cu":-4,"cl":-54},
{"t":2009.190,"pu":-2,"pl":-20,"cu":-8,"cl":-50},
{"t":2009.210,"pu":0,"pl":-18,"cu":-6,"cl":-54},
{"t":2009.230,"pu":2,"pl":-16,"cu":-4,"cl":-51},
{"t":2009.250,"pu":-4,"pl":-20,"cu":-10,"cl":-55},
{"t":2009.270,"pu":0,"pl":-18,"cu":-6,"cl":-50},
{"t":2009.290,"pu":-2,"pl":-20,"cu":-8,"cl":-54},
{"t":2009.310,"pu":-8,"pl":-24,"cu":-14,"cl":-51},
{"t":2009.325,"pu":-18,"pl":-30,"cu":-22,"cl":-55},
{"t":2009.340,"pu":-10,"pl":-24,"cu":-16,"cl":-52},
{"t":2009.355,"pu":-22,"pl":-32,"cu":-26,"cl":-56},
{"t":2009.365,"pu":-30,"pl":-36,"cu":-34,"cl":-53},
{"t":2009.380,"pu":-2,"pl":-18,"cu":-6,"cl":-57},
{"t":2009.400,"pu":4,"pl":-14,"cu":-2,"cl":-53},
{"t":2009.420,"pu":2,"pl":-16,"cu":-4,"cl":-60},
{"t":2009.440,"pu":5,"pl":-14,"cu":-2,"cl":-56},
{"t":2009.460,"pu":1,"pl":-16,"cu":-6,"cl":-62},
{"t":2009.480,"pu":4,"pl":-14,"cu":-3,"cl":-55},
{"t":2009.500,"pu":0,"pl":-16,"cu":-6,"cl":-60},
{"t":2009.512,"pu":-10,"pl":-22,"cu":-16,"cl":-56},
{"t":2009.525,"pu":2,"pl":-16,"cu":-4,"cl":-52},
{"t":2009.540,"pu":6,"pl":-12,"cu":0,"cl":-56},
{"t":2009.560,"pu":8,"pl":-12,"cu":2,"cl":-52},
{"t":2009.580,"pu":5,"pl":-14,"cu":-1,"cl":-55},
{"t":2009.600,"pu":7,"pl":-12,"cu":0,"cl":-52},
{"t":2009.620,"pu":4,"pl":-14,"cu":-2,"cl":-56},
{"t":2009.640,"pu":8,"pl":-12,"cu":1,"cl":-53},
{"t":2009.660,"pu":6,"pl":-12,"cu":0,"cl":-57},
{"t":2009.680,"pu":9,"pl":-10,"cu":2,"cl":-54},
{"t":2009.700,"pu":5,"pl":-14,"cu":-2,"cl":-56},
{"t":2009.720,"pu":2,"pl":-16,"cu":-6,"cl":-52},
{"t":2009.740,"pu":-6,"pl":-20,"cu":-12,"cl":-55},
{"t":2009.760,"pu":-10,"pl":-22,"cu":-16,"cl":-51},
{"t":2009.775,"pu":2,"pl":-16,"cu":-4,"cl":-54},
{"t":2009.790,"pu":10,"pl":-10,"cu":2,"cl":-52},
{"t":2009.810,"pu":8,"pl":-12,"cu":0,"cl":-55},
{"t":2009.830,"pu":11,"pl":-10,"cu":3,"cl":-52},
{"t":2009.850,"pu":7,"pl":-12,"cu":0,"cl":-56},
{"t":2009.870,"pu":12,"pl":-10,"cu":2,"cl":-58},
{"t":2009.890,"pu":6,"pl":-14,"cu":-2,"cl":-60},
{"t":2009.905,"pu":-10,"pl":-24,"cu":-16,"cl":-62},
{"t":2009.920,"pu":-28,"pl":-36,"cu":-32,"cl":-58},
{"t":2009.932,"pu":-12,"pl":-24,"cu":-18,"cl":-64},
{"t":2009.945,"pu":6,"pl":-12,"cu":0,"cl":-56},
{"t":2009.960,"pu":10,"pl":-10,"cu":2,"cl":-52},
{"t":2009.975,"pu":8,"pl":-10,"cu":3,"cl":-50},
{"t":2009.990,"pu":11,"pl":-8,"cu":4,"cl":-54},
{"t":2010.000,"pu":9,"pl":-10,"cu":2,"cl":-48}
],
"needles":[
{"t":2007.025,"lo":-20,"hi":-8,"s":"s4"},
{"t":2007.065,"lo":-15,"hi":-4,"s":"s4"},
{"t":2007.105,"lo":-18,"hi":-6,"s":"s4"},
{"t":2007.145,"lo":-16,"hi":-2,"s":"s4"},
{"t":2007.215,"lo":-20,"hi":-8,"s":"s4"},
{"t":2007.265,"lo":-26,"hi":-14,"s":"s4"},
{"t":2007.335,"lo":-18,"hi":-2,"s":"s4"},
{"t":2007.395,"lo":-20,"hi":-10,"s":"s4"},
{"t":2007.445,"lo":-12,"hi":2,"s":"s4"},
{"t":2007.525,"lo":-22,"hi":-10,"s":"s4"},
{"t":2007.585,"lo":-16,"hi":-4,"s":"s4"},
{"t":2007.655,"lo":-12,"hi":2,"s":"s4"},
{"t":2007.735,"lo":-6,"hi":6,"s":"s4"},
{"t":2007.805,"lo":-4,"hi":8,"s":"s4"},
{"t":2007.865,"lo":-4,"hi":10,"s":"s4"},
{"t":2008.045,"lo":-12,"hi":2,"s":"s4"},
{"t":2008.175,"lo":-6,"hi":6,"s":"s4"},
{"t":2008.335,"lo":0,"hi":10,"s":"s4"},
{"t":2008.575,"lo":0,"hi":12,"s":"s4"},
{"t":2008.725,"lo":-4,"hi":8,"s":"s4"},
{"t":2008.835,"lo":0,"hi":12,"s":"s4"},
{"t":2009.035,"lo":4,"hi":12,"s":"s4"},
{"t":2009.235,"lo":0,"hi":10,"s":"s4"},
{"t":2009.445,"lo":2,"hi":12,"s":"s4"},
{"t":2009.635,"lo":6,"hi":15,"s":"s4"},
{"t":2009.795,"lo":8,"hi":16,"s":"s4"},
{"t":2009.985,"lo":8,"hi":14,"s":"s4"},
{"t":2007.085,"lo":-60,"hi":-50,"s":"s4"},
{"t":2007.255,"lo":-62,"hi":-54,"s":"s4"},
{"t":2007.375,"lo":-61,"hi":-54,"s":"s4"},
{"t":2007.545,"lo":-60,"hi":-52,"s":"s4"},
{"t":2008.655,"lo":-10,"hi":3,"s":"s6"},
{"t":2009.050,"lo":-6,"hi":6,"s":"s6"},
{"t":2009.730,"lo":-6,"hi":8,"s":"s6"},
{"t":2007.930,"lo":-58,"hi":-48,"s":"s6"},
{"t":2008.030,"lo":-60,"hi":-48,"s":"s6"},
{"t":2008.110,"lo":-60,"hi":-50,"s":"s6"},
{"t":2008.240,"lo":-59,"hi":-48,"s":"s6"},
{"t":2008.310,"lo":-62,"hi":-52,"s":"s6"},
{"t":2008.430,"lo":-61,"hi":-50,"s":"s6"},
{"t":2008.520,"lo":-58,"hi":-48,"s":"s6"},
{"t":2008.630,"lo":-60,"hi":-50,"s":"s6"},
{"t":2008.710,"lo":-60,"hi":-48,"s":"s6"},
{"t":2008.870,"lo":-62,"hi":-50,"s":"s6"},
{"t":2008.940,"lo":-61,"hi":-48,"s":"s6"},
{"t":2009.050,"lo":-60,"hi":-50,"s":"s6"},
{"t":2009.150,"lo":-61,"hi":-50,"s":"s6"},
{"t":2009.220,"lo":-63,"hi":-48,"s":"s6"},
{"t":2009.280,"lo":-62,"hi":-48,"s":"s6"},
{"t":2009.400,"lo":-68,"hi":-50,"s":"s6"},
{"t":2009.470,"lo":-64,"hi":-50,"s":"s6"},
{"t":2009.550,"lo":-66,"hi":-50,"s":"s6"},
{"t":2009.620,"lo":-62,"hi":-52,"s":"s6"},
{"t":2009.700,"lo":-57,"hi":-48,"s":"s6"},
{"t":2009.770,"lo":-61,"hi":-50,"s":"s6"},
{"t":2009.860,"lo":-62,"hi":-50,"s":"s6"},
{"t":2009.940,"lo":-64,"hi":-50,"s":"s6"},
{"t":2008.580,"lo":-58,"hi":-50,"s":"s1"},
{"t":2009.450,"lo":-64,"hi":-56,"s":"s1"},
{"t":2009.590,"lo":-60,"hi":-52,"s":"s1"},
{"t":2009.980,"lo":-71,"hi":-50,"s":"s1"}
],
"boxes":[
{"t1":2003.47,"t2":2005.27,"v1":-36.5,"v2":-52.1},
{"t1":2007.586,"t2":2009.048,"v1":96.7,"v2":79.8},
{"t1":2003.85,"t2":2005.43,"v1":172.4,"v2":159.9}
],
"labels":[
{"t":2003.947,"v":164.0,"label":"QD upper temperature limit"},
{"t":2007.661,"v":85.0,"label":"Radiators filled with NH3"},
{"t":2003.558,"v":-46.9,"label":"Radiators filled with a GN2 pad"}
]
},
"layer":[
{"layer":[
{"data":{"name":"p1"},
 "transform":[{"fold":["s1","s2","s3","s4","s5","s6"],"as":["s","v"]}],
 "mark":{"type":"line","strokeWidth":1,"clip":true},
 "encoding":{
  "x":{"field":"t","type":"quantitative","scale":{"domain":[2002.837,2010],"nice":false,"zero":false},
       "axis":{"values":[2003,2004,2005,2006,2007,2008,2009,2010],"format":"d","title":null,"orient":"bottom"}},
  "y":{"field":"v","type":"quantitative","scale":{"domain":[-75,175],"nice":false,"zero":false},
       "axis":{"values":[-75,-50,-25,0,25,50,75,100,125,150,175],"title":"Temperature (F)","orient":"left"}},
  "color":{"field":"s","type":"nominal","legend":null,
       "scale":{"domain":["s1","s2","s3","s4","s5","s6"],"range":["#0072BD","#D95319","#EDB120","#7E2F8E","#77AC30","#4DBEEE"]}}
 }},
{"data":{"name":"start"},
 "mark":{"type":"line","strokeWidth":1,"color":"#4DBEEE","clip":true},
 "encoding":{"x":{"field":"t","type":"quantitative"},"y":{"field":"v","type":"quantitative"}}},
{"data":{"name":"band"},
 "transform":[{"filter":"isValid(datum.yl)"}],
 "mark":{"type":"area","color":"#EDB120","clip":true},
 "encoding":{"x":{"field":"t","type":"quantitative"},"y":{"field":"yl","type":"quantitative"},"y2":{"field":"pl"}}},
{"data":{"name":"band"},
 "mark":{"type":"area","color":"#7E2F8E","clip":true},
 "encoding":{"x":{"field":"t","type":"quantitative"},"y":{"field":"pu","type":"quantitative"},"y2":{"field":"pl"}}},
{"data":{"name":"band"},
 "transform":[{"filter":"isValid(datum.cu)"}],
 "mark":{"type":"area","color":"#4DBEEE","clip":true},
 "encoding":{"x":{"field":"t","type":"quantitative"},"y":{"field":"cu","type":"quantitative"},"y2":{"field":"cl"}}},
{"data":{"name":"needles"},
 "mark":{"type":"rule","strokeWidth":1,"clip":true},
 "encoding":{"x":{"field":"t","type":"quantitative"},"y":{"field":"lo","type":"quantitative"},"y2":{"field":"hi"},
   "color":{"field":"s","type":"nominal","legend":null,
       "scale":{"domain":["s1","s2","s3","s4","s5","s6"],"range":["#0072BD","#D95319","#EDB120","#7E2F8E","#77AC30","#4DBEEE"]}}}},
{"data":{"name":"p2"},
 "transform":[{"fold":["s1","s2","s5","s6"],"as":["s","v"]}],
 "mark":{"type":"line","strokeWidth":1,"clip":true},
 "encoding":{
  "x":{"field":"t","type":"quantitative"},
  "y":{"field":"v","type":"quantitative"},
  "color":{"field":"s","type":"nominal","legend":null,
       "scale":{"domain":["s1","s2","s3","s4","s5","s6"],"range":["#0072BD","#D95319","#EDB120","#7E2F8E","#77AC30","#4DBEEE"]}}
 }},
{"data":{"name":"boxes"},
 "mark":{"type":"rect","fill":"white","stroke":null},
 "encoding":{"x":{"field":"t1","type":"quantitative"},"x2":{"field":"t2"},"y":{"field":"v1","type":"quantitative"},"y2":{"field":"v2"}}},
{"data":{"name":"labels"},
 "mark":{"type":"text","font":"Liberation Sans","fontSize":18,"color":"#000000","align":"left","baseline":"alphabetic"},
 "encoding":{"x":{"field":"t","type":"quantitative"},"y":{"field":"v","type":"quantitative"},"text":{"field":"label"}}}
]},
{"layer":[
{"data":{"values":[{"t":2006.95}]},
 "mark":{"type":"rule","color":"#000000","strokeWidth":4},
 "encoding":{"x":{"field":"t","type":"quantitative",
   "axis":{"orient":"top","values":[2003,2004,2005,2006,2007,2008,2009,2010],"labels":false,"grid":false,"title":null}}}},
{"data":{"values":[{"v":158}]},
 "mark":{"type":"rule","color":"#ff0000","strokeWidth":4,"strokeDash":[15,13.6]},
 "encoding":{"y":{"field":"v","type":"quantitative",
   "axis":{"orient":"right","values":[-75,-50,-25,0,25,50,75,100,125,150,175],"labels":false,"grid":false,"title":null}}}}
]}
],
"resolve":{"axis":{"x":"independent","y":"independent"}},
"config":{
 "view":{"stroke":"#262626","strokeWidth":1},
 "axis":{"labelFont":"Liberation Sans","labelFontSize":13,"labelColor":"#262626","tickColor":"#262626","tickSize":-10,"tickWidth":1,"domain":false,"gridColor":"#e6e6e6","gridWidth":1,"titleFont":"Liberation Sans","titleFontSize":12,"titleFontWeight":"normal","titleColor":"#262626","titlePadding":5},
 "axisX":{"labelPadding":17},
 "axisY":{"labelPadding":16}
}
}
